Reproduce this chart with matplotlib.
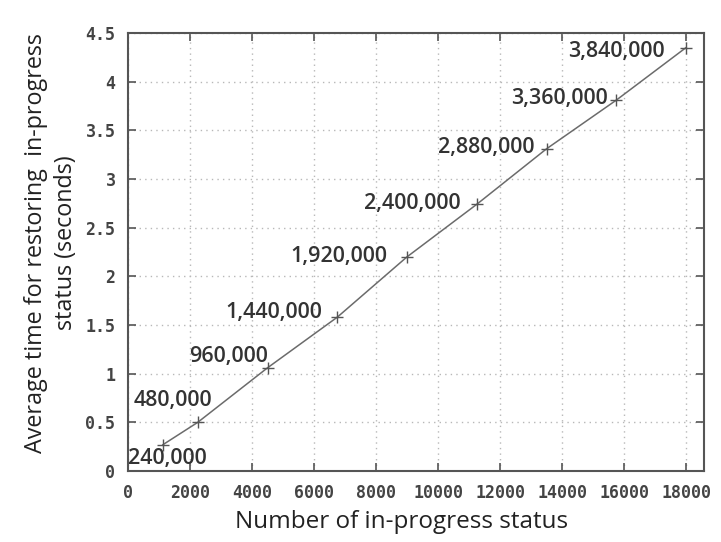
import matplotlib
matplotlib.use("Agg")
import matplotlib.pyplot as plt
from matplotlib.ticker import FormatStrFormatter, MultipleLocator

# data
status_counts = [1125, 2250, 4500, 6750, 9000, 11250, 13500, 15750, 18000]
restore_time = [0.27, 0.50, 1.06, 1.58, 2.20, 2.74, 3.31, 3.81, 4.35]
point_labels = ["240,000", "480,000", "960,000", "1,440,000", "1,920,000",
                "2,400,000", "2,880,000", "3,360,000", "3,840,000"]

# label placement (pixels from the marker) and alignment
label_offsets = [(4, -14), (-25, 22), (0, 11), (-15, 5), (-20, 0),
                 (-16, 1), (-12, 1), (-8, 2), (-21, -4)]
label_ha = ["center", "center", "right", "right", "right",
            "right", "right", "right", "right"]

fig = plt.figure(figsize=(7.21, 5.42), dpi=100)
ax = fig.add_axes([128 / 721, 71 / 542, 576 / 721, 438 / 542])

ax.plot(status_counts, restore_time, color="#6b6b6b", linewidth=1.1,
        marker="+", markersize=9, markeredgewidth=1.0, markeredgecolor="#555555")

for x, y, lab, off, ha in zip(status_counts, restore_time, point_labels, label_offsets, label_ha):
    ax.annotate(lab, (x, y), xytext=off, textcoords="offset pixels",
                ha=ha, va="center", fontsize=15.5, fontweight="semibold",
                family="Open Sans", color="#333333")

ax.set_xlim(0, 18580)
ax.set_ylim(0, 4.5)
ax.xaxis.set_major_locator(MultipleLocator(2000))
ax.yaxis.set_major_locator(MultipleLocator(0.5))
ax.yaxis.set_major_formatter(FormatStrFormatter("%g"))
ax.grid(True, color="#b8b8b8", linestyle=(0, (1, 3)), linewidth=1.0)

for s in ax.spines.values():
    s.set_color("#555555")
    s.set_linewidth(1.5)

ax.tick_params(direction="in", length=6, width=1.2, color="#555555",
               top=True, right=True, pad=9)
for lab in ax.get_xticklabels() + ax.get_yticklabels():
    lab.set_family("DejaVu Sans Mono")
    lab.set_fontweight("bold")
    lab.set_fontsize(12)
    lab.set_color("#444444")

fig.text(51 / 721, 1 - 243 / 542,
         "Average time for restoring  in-progress\nstatus (seconds)",
         rotation=90, ha="center", va="center", multialignment="center",
         fontsize=16.8, family="Open Sans", color="#222222", linespacing=1.3)
fig.text(402 / 721, 1 - 522 / 542, "Number of in-progress status",
         ha="center", va="center", fontsize=17.5, family="Open Sans", color="#222222")

fig.savefig("out.png", dpi=100)
